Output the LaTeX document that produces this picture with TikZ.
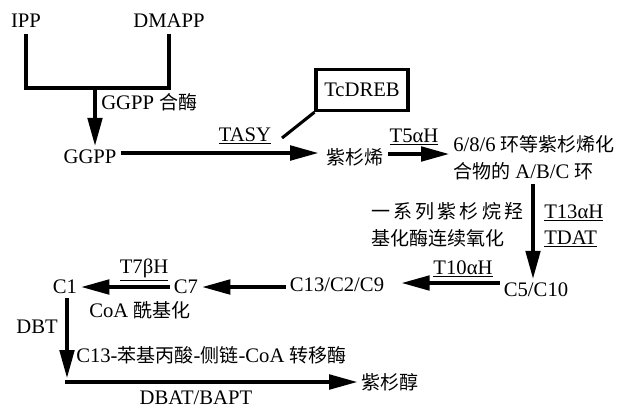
\documentclass[tikz,border=0pt]{standalone}
\usepackage{fontspec}
\setmainfont{Liberation Serif}
\newfontfamily\cjk{Noto Sans CJK SC}[Scale=0.92]
\usetikzlibrary{arrows.meta}
\begin{document}
\begin{tikzpicture}[x=0.75pt,y=-0.75pt,
  lbl/.style={inner sep=3pt, font=\fontsize{15.5}{20}\selectfont},
  ln/.style={line width=2.3pt, line join=miter},
  arr/.style={ln, -{Triangle[length=21pt,width=11pt]}}]
\useasboundingbox (0,0) rectangle (620,408);
% nodes
\node[lbl] (ipp) at (26,21) {IPP};
\node[lbl] (dmapp) at (169,21) {DMAPP};
\coordinate (jm) at (95,88);
\node[lbl, anchor=west] (ggppsyn) at (97,102) {GGPP {\cjk 合酶}};
\node[lbl] (ggpp) at (90,157) {GGPP};
\node[lbl] (tasy) at (245,136) {\underline{TASY}};
\node[lbl, draw, line width=2.3pt, minimum width=69pt, minimum height=31pt] (tcdreb) at (362,90) {TcDREB};
\coordinate (tcend) at (282,138);
\node[lbl] (taxa) at (355,157) {\cjk 紫杉烯};
\node[lbl] (t5) at (414,137) {\underline{T5αH}};
\node[lbl, anchor=west, align=left] (ring) at (449,158) {6/8/6 {\cjk 环等紫杉烯化}\\{\cjk 合物的} A/B/C {\cjk 环}};
\node[lbl, anchor=west, align=left] (hydrox) at (367,225) {\makebox[114pt][s]{\cjk 一\hfill 系\hfill 列\hfill 紫\hfill 杉\hfill 烷\hfill 羟}\\{\cjk 基化酶连续氧化}};
\node[lbl, anchor=west] (t13) at (540,213) {\underline{T13αH}};
\node[lbl, anchor=west] (tdat) at (540,239) {\underline{TDAT}};
\node[lbl] (c510) at (536,290) {C5/C10};
\node[lbl] (t10) at (463,269) {\underline{T10αH}};
\node[lbl] (c13) at (337,285) {C13/C2/C9};
\node[lbl] (c7) at (186,287) {C7};
\node[lbl] (t7) at (144,270) {\underline{T7βH}};
\node[lbl] (c1) at (65,287) {C1};
\node[lbl, anchor=west] (coa) at (85,310) {CoA {\cjk 酰基化}};
\node[lbl] (dbt) at (37,327) {DBT};
\node[lbl, anchor=west] (c13ph) at (72,355) {C13-{\cjk 苯基丙酸}-{\cjk 侧链}-CoA {\cjk 转移酶}};
\coordinate (corner) at (67,382);
\node[lbl] (taxol) at (390,382) {\cjk 紫杉醇};
\node[lbl] (dbat) at (196,398) {DBAT/BAPT};
% connectors
\draw[ln] (ipp.south) ++(0,2) |- (jm) -| ([yshift=-1.5pt]dmapp.south);
\draw[arr] (jm) -- (ggpp.north -| jm);
\draw[arr] (ggpp.east) ++(0,-4) -- ([xshift=-3pt]taxa.west |- 0,153);
\draw[ln] (tcend) -- (tcdreb.south west);
\draw[arr] (taxa.east |- 0,154) -- (ring.west |- 0,154);
\draw[arr] (ring.south -| 533,0) -- (c510.north -| 533,0);
\draw[arr] (c510.west |- 0,283) -- ([xshift=10pt]c13.east |- 0,283);
\draw[arr] (c13.west |- 0,287) -- (c7.east |- 0,287);
\draw[arr] (c7.west |- 0,287) -- (c1.east |- 0,287);
\draw[arr] (c1.south -| corner) -- ([yshift=3pt]corner);
\draw[arr] ([xshift=-1.15pt]corner) -- (taxol.west);
\end{tikzpicture}
\end{document}
